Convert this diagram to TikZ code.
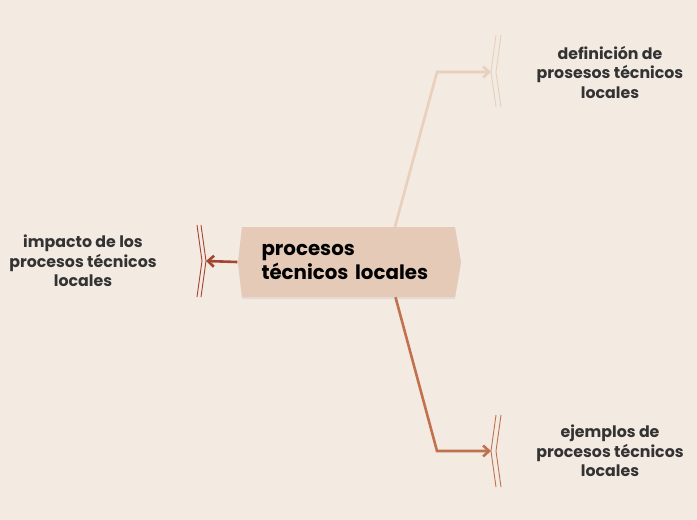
\documentclass[tikz,border=0pt]{standalone}
\usepackage{fontspec}
\setmainfont{Poppins}
\usetikzlibrary{arrows.meta,calc}
\definecolor{bg}{HTML}{F3EAE2}
\definecolor{boxc}{HTML}{E5CBB7}
\definecolor{ctop}{HTML}{E8D0BC}
\definecolor{cbot}{HTML}{C2714F}
\definecolor{cleft}{HTML}{A3452F}
\definecolor{txt}{HTML}{333333}
\tikzset{
  conn/.style={line width=2.6pt, -{Straight Barb[length=6pt,width=11pt]}},
  brk/.style={line width=0.9pt},
  leaf/.style={align=center, text=txt, font=\fontsize{15.8}{19.5}\selectfont\bfseries},
  central/.style={align=left, text=black, font=\fontsize{19.8}{24}\selectfont\bfseries,
    text width=176pt, inner xsep=24pt, minimum height=70pt}
}
\begin{document}
\begin{tikzpicture}[x=1pt,y=-1pt]
\fill[bg] (0,0) rectangle (697,520);
\useasboundingbox (0,0) rectangle (697,520);
% central shape
\fill[black,opacity=0.06] (242,229) -- (455,229) -- (461,264) -- (455,299) -- (242,299) -- (238,264) -- cycle;
\fill[boxc] (242,227) -- (455,227) -- (461,262) -- (455,297) -- (242,297) -- (238,262) -- cycle;
\node[central] (c) at (349.5,262) {procesos\\técnicos locales};
% bracket anchor coordinates
\coordinate (b1) at (491,72);
\coordinate (b2) at (206,261);
\coordinate (b3) at (491,451);
% leaves
\node[leaf] (t1) at (610,72) {definición de\\prosesos técnicos\\locales};
\node[leaf] (t2) at (83,261) {impacto de los\\procesos técnicos\\locales};
\node[leaf] (t3) at (610,451) {ejemplos de\\procesos técnicos\\locales};
% connectors
\draw[conn, ctop] ($(c.north)+(45.5,0)$) -- (437,72) -- (b1);
\draw[conn, cbot] ($(c.south)+(46,0)$) -- (437,451) -- (b3);
\draw[conn, cleft] (c.west) -- (b2);
% brackets
\draw[brk, ctop] (496,35) -- (491,72) -- (496,107);
\draw[brk, ctop] (501,35) -- (496,72) -- (501,107);
\draw[brk, cbot] (496,415) -- (491,451) -- (496,487);
\draw[brk, cbot] (501,415) -- (496,451) -- (501,487);
\draw[brk, cleft] (197,225) -- (202,261) -- (197,297);
\draw[brk, cleft] (201,225) -- (206,261) -- (201,297);
\end{tikzpicture}
\end{document}
